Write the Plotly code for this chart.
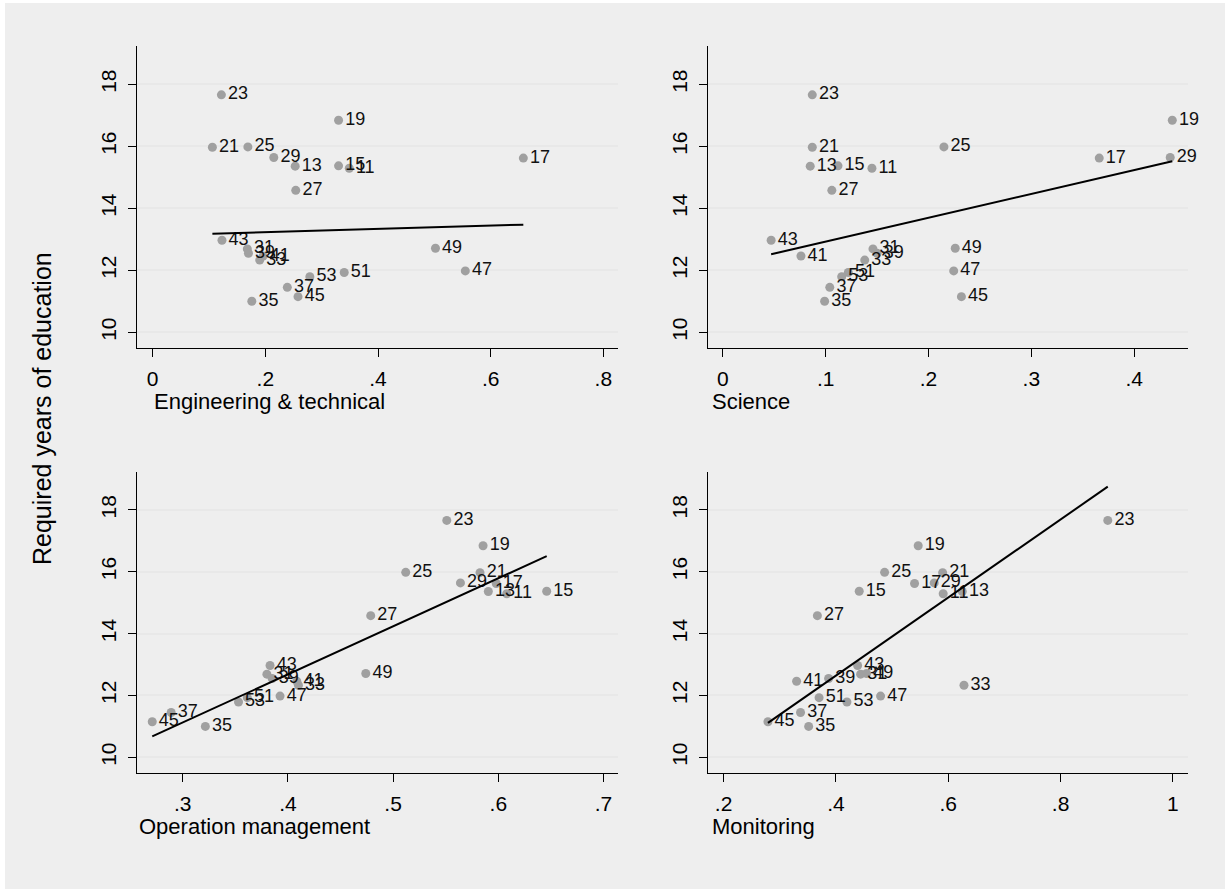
import numpy as np
import plotly.graph_objects as go

# ---------------- data ----------------
codes = [11, 13, 15, 17, 19, 21, 23, 25, 27, 29, 31, 33, 35, 37, 39, 41, 43, 45, 47, 49, 51, 53]
educ = [15.29, 15.36, 15.37, 15.62, 16.84, 15.97, 17.66, 15.98, 14.58, 15.64, 12.69,
        12.33, 11.00, 11.45, 12.55, 12.46, 12.97, 11.15, 11.98, 12.71, 11.93, 11.79]
engineering = [0.349, 0.253, 0.330, 0.658, 0.330, 0.106, 0.122, 0.169, 0.254, 0.215, 0.168,
               0.190, 0.176, 0.239, 0.170, 0.196, 0.123, 0.258, 0.555, 0.502, 0.340, 0.279]
science = [0.145, 0.085, 0.112, 0.366, 0.437, 0.087, 0.087, 0.215, 0.106, 0.435, 0.146,
           0.138, 0.099, 0.104, 0.150, 0.076, 0.047, 0.232, 0.2245, 0.226, 0.122, 0.1156]
operation = [0.608, 0.5905, 0.646, 0.598, 0.5855, 0.5826, 0.551, 0.512, 0.4787, 0.564, 0.380,
             0.410, 0.3215, 0.289, 0.3850, 0.4084, 0.383, 0.271, 0.3925, 0.474, 0.3614, 0.353]
monitoring = [0.591, 0.625, 0.4415, 0.540, 0.5465, 0.590, 0.884, 0.4867, 0.367, 0.575, 0.444,
              0.628, 0.3515, 0.337, 0.387, 0.330, 0.4386, 0.279, 0.4795, 0.4546, 0.370, 0.4196]

# fitted lines: intercept and slope per panel
fit_intercept = [13.126, 12.157, 6.467, 7.590]
fit_slope = [0.525, 7.694, 15.535, 12.626]

panel_titles = ["Engineering & technical", "Science", "Operation management", "Monitoring"]
panel_x = [engineering, science, operation, monitoring]
x_ticks = [[0, 0.2, 0.4, 0.6, 0.8], [0, 0.1, 0.2, 0.3, 0.4],
           [0.3, 0.4, 0.5, 0.6, 0.7], [0.2, 0.4, 0.6, 0.8, 1.0]]
x_ticklabels = [["0", ".2", ".4", ".6", ".8"], ["0", ".1", ".2", ".3", ".4"],
                [".3", ".4", ".5", ".6", ".7"], [".2", ".4", ".6", ".8", "1"]]
x_ranges = [[-0.0273, 0.8255], [-0.0141, 0.452], [0.2568, 0.7135], [0.1728, 1.0263]]
y_ticks = [10, 12, 14, 16, 18]
y_ticklabels = ["10", "12", "14", "16", "18"]
y_title = "Required years of education"

# ---------------- layout geometry ----------------
W, H = 1230, 892
FONT = "Liberation Sans, Arial, sans-serif"
px_x = [(137.3, 617.7), (708.3, 1187.7), (137.3, 617.7), (708.3, 1187.7)]
px_y = [(46.0, 347.7), (46.0, 347.7), (471.7, 772.7), (471.7, 772.7)]
title_xshift = [15, 2, 0, 2]

fig = go.Figure()

for i in range(4):
    sfx = "" if i == 0 else str(i + 1)
    xa, ya = "x" + sfx, "y" + sfx
    xs = panel_x[i]
    fig.add_trace(go.Scatter(
        x=xs, y=educ, mode="markers+text",
        text=[str(c) for c in codes], textposition="middle right",
        textfont=dict(family=FONT, size=18, color="#111111"),
        marker=dict(size=9, color="#a0a0a0"),
        xaxis=xa, yaxis=ya, showlegend=False, cliponaxis=False))
    xr = np.array([min(xs), max(xs)])
    fig.add_trace(go.Scatter(
        x=xr, y=fit_intercept[i] + fit_slope[i] * xr, mode="lines",
        line=dict(color="black", width=2),
        xaxis=xa, yaxis=ya, showlegend=False))

    x0, x1 = px_x[i]
    y0, y1 = px_y[i]
    axis_common = dict(
        showline=True, linecolor="black", linewidth=1.3, mirror=False,
        ticks="outside", ticklen=8, tickwidth=1.3, tickcolor="black",
        tickfont=dict(family=FONT, size=21, color="black"), zeroline=False,
        ticklabelstandoff=4)
    fig.layout["xaxis" + sfx] = dict(
        domain=[x0 / W, x1 / W], anchor=ya, range=x_ranges[i],
        tickvals=x_ticks[i], ticktext=x_ticklabels[i], showgrid=False, **axis_common)
    fig.layout["yaxis" + sfx] = dict(
        domain=[1 - y1 / H, 1 - y0 / H], anchor=xa, range=[9.503, 19.235],
        tickvals=y_ticks, ticktext=y_ticklabels, tickangle=-90,
        showgrid=True, gridcolor="#e8e8e8", gridwidth=2, **axis_common)
    fig.add_annotation(
        text=panel_titles[i], xref=xa + " domain", yref=ya + " domain",
        x=0, y=0, xanchor="left", yanchor="middle", yshift=-54,
        xshift=title_xshift[i], showarrow=False,
        font=dict(family=FONT, size=22, color="black"))

fig.add_annotation(
    text=y_title, xref="paper", yref="paper", x=42 / W, y=1 - 409 / H,
    xanchor="center", yanchor="middle", textangle=-90, showarrow=False,
    font=dict(family=FONT, size=25, color="black"))

fig.add_shape(type="rect", xref="paper", yref="paper",
              x0=5 / W, x1=1225 / W, y0=1 - 889 / H, y1=1 - 3 / H,
              fillcolor="#eeeeee", line=dict(width=0), layer="below")

fig.update_layout(
    width=W, height=H, margin=dict(l=0, r=0, t=0, b=0),
    paper_bgcolor="white", plot_bgcolor="white",
    font=dict(family=FONT, color="black"))

fig.write_html("out.html", config={"displayModeBar": False},
               post_script="document.body.style.margin='0';")
